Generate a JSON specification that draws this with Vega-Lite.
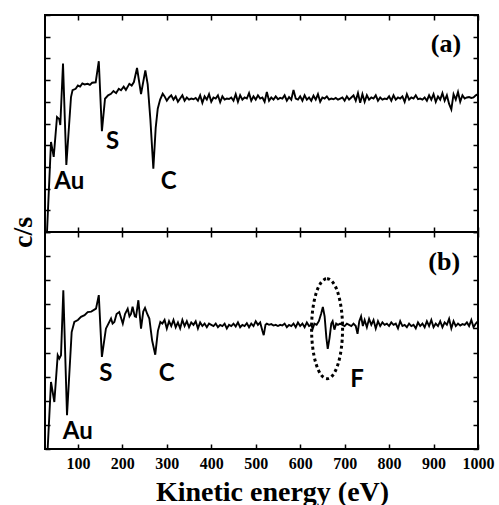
{
  "$schema": "https://vega.github.io/schema/vega-lite/v6.json",
  "background": "white",
  "padding": {"left": 8, "top": 13, "right": 5, "bottom": 0},
  "spacing": 0,
  "bounds": "flush",
  "config": {
    "view": {"stroke": "black", "strokeWidth": 2},
    "axis": {"domain": false, "grid": false, "ticks": true, "tickColor": "black", "tickWidth": 1.5, "tickSize": -5,
      "labelFont": "Liberation Serif", "labelFontWeight": "bold", "labelFontSize": 16, "labelColor": "black",
      "titleFont": "Liberation Serif", "titleFontWeight": "bold", "titleColor": "black"}
  },
  "datasets": {
    "specA": [
      {"energy": 30.5, "cps": 0}, {"energy": 39.5, "cps": 4.15}, {"energy": 45.6, "cps": 3.46}, {"energy": 53, "cps": 5.3}, {"energy": 58, "cps": 5.2}, {"energy": 60.4, "cps": 4.93}, {"energy": 66.5, "cps": 7.76}, {"energy": 74, "cps": 3.09}, {"energy": 84.5, "cps": 6.22}, {"energy": 88, "cps": 6.54}, {"energy": 95, "cps": 6.6}, {"energy": 100, "cps": 6.75}, {"energy": 105, "cps": 6.7}, {"energy": 110, "cps": 6.85}, {"energy": 115, "cps": 6.8}, {"energy": 122, "cps": 6.83}, {"energy": 127, "cps": 6.78}, {"energy": 132, "cps": 6.88}, {"energy": 140, "cps": 6.9}, {"energy": 147, "cps": 7.87}, {"energy": 154, "cps": 4.65}, {"energy": 161, "cps": 6.14}, {"energy": 168, "cps": 6.3}, {"energy": 174.5, "cps": 6.37}, {"energy": 180, "cps": 6.5}, {"energy": 186, "cps": 6.4}, {"energy": 192, "cps": 6.6}, {"energy": 197, "cps": 6.53}, {"energy": 203, "cps": 6.7}, {"energy": 208, "cps": 6.55}, {"energy": 215.7, "cps": 6.83}, {"energy": 221, "cps": 6.75}, {"energy": 226, "cps": 6.91}, {"energy": 233, "cps": 7.56}, {"energy": 242, "cps": 6.36}, {"energy": 251.7, "cps": 7.45}, {"energy": 257, "cps": 6.8}, {"energy": 263, "cps": 5.2}, {"energy": 269.7, "cps": 2.92}, {"energy": 275, "cps": 4.8}, {"energy": 279.6, "cps": 5.68}, {"energy": 285, "cps": 6.1}, {"energy": 290.8, "cps": 6.37},
      {"energy": 295, "cps": 6.25}, {"energy": 300, "cps": 6.05}, {"energy": 305, "cps": 6.2}, {"energy": 310, "cps": 6.3}, {"energy": 315, "cps": 6.1}, {"energy": 320, "cps": 6.25}, {"energy": 325, "cps": 6.0}, {"energy": 330, "cps": 6.15}, {"energy": 335, "cps": 6.3}, {"energy": 340, "cps": 6.05}, {"energy": 345, "cps": 6.2}, {"energy": 350, "cps": 6.1}, {"energy": 355, "cps": 6.15}, {"energy": 360, "cps": 6.12}, {"energy": 365, "cps": 6.18}, {"energy": 370, "cps": 6.05}, {"energy": 375, "cps": 6.3}, {"energy": 380, "cps": 5.95}, {"energy": 385, "cps": 6.25}, {"energy": 390, "cps": 6.1}, {"energy": 395, "cps": 6.35}, {"energy": 400, "cps": 6.0}, {"energy": 405, "cps": 6.2}, {"energy": 410, "cps": 6.15}, {"energy": 415, "cps": 6.3}, {"energy": 420, "cps": 5.98}, {"energy": 425, "cps": 6.25}, {"energy": 430, "cps": 6.1}, {"energy": 435, "cps": 6.15}, {"energy": 440, "cps": 6.13}, {"energy": 445, "cps": 6.2}, {"energy": 450, "cps": 6.05}, {"energy": 455, "cps": 6.35}, {"energy": 460, "cps": 6.0}, {"energy": 465, "cps": 6.3}, {"energy": 470, "cps": 6.1}, {"energy": 475, "cps": 6.2}, {"energy": 480, "cps": 6.15}, {"energy": 485, "cps": 6.4}, {"energy": 490, "cps": 6.05}, {"energy": 495, "cps": 6.25}, {"energy": 500, "cps": 6.1}, {"energy": 505, "cps": 6.3}, {"energy": 510, "cps": 6.15}, {"energy": 515, "cps": 6.2}, {"energy": 520, "cps": 6.0}, {"energy": 525, "cps": 6.45}, {"energy": 530, "cps": 6.05}, {"energy": 535, "cps": 6.2}, {"energy": 540, "cps": 6.1}, {"energy": 545, "cps": 6.25}, {"energy": 550, "cps": 6.12}, {"energy": 555, "cps": 6.18}, {"energy": 560, "cps": 6.15}, {"energy": 565, "cps": 6.3}, {"energy": 570, "cps": 6.05}, {"energy": 575, "cps": 6.22}, {"energy": 580, "cps": 6.1}, {"energy": 585, "cps": 6.55}, {"energy": 590, "cps": 6.15}, {"energy": 595, "cps": 6.1}, {"energy": 600, "cps": 6.25}, {"energy": 605, "cps": 6.05}, {"energy": 610, "cps": 6.3}, {"energy": 615, "cps": 6.1}, {"energy": 620, "cps": 6.2}, {"energy": 625, "cps": 6.05}, {"energy": 630, "cps": 6.28}, {"energy": 635, "cps": 6.1}, {"energy": 640, "cps": 6.35}, {"energy": 645, "cps": 6.0}, {"energy": 650, "cps": 6.2}, {"energy": 655, "cps": 6.15}, {"energy": 660, "cps": 6.25}, {"energy": 665, "cps": 6.1}, {"energy": 670, "cps": 6.15}, {"energy": 675, "cps": 6.12}, {"energy": 680, "cps": 6.18}, {"energy": 685, "cps": 6.1}, {"energy": 690, "cps": 6.15}, {"energy": 695, "cps": 6.2}, {"energy": 700, "cps": 6.05}, {"energy": 705, "cps": 6.25}, {"energy": 710, "cps": 6.1}, {"energy": 715, "cps": 6.2}, {"energy": 720, "cps": 6.3}, {"energy": 725, "cps": 6.05}, {"energy": 730, "cps": 6.4}, {"energy": 735, "cps": 5.95}, {"energy": 740, "cps": 6.35}, {"energy": 745, "cps": 6.0}, {"energy": 750, "cps": 6.3}, {"energy": 755, "cps": 6.1}, {"energy": 760, "cps": 6.2}, {"energy": 765, "cps": 6.15}, {"energy": 770, "cps": 6.3}, {"energy": 775, "cps": 6.05}, {"energy": 780, "cps": 6.2}, {"energy": 785, "cps": 6.1}, {"energy": 790, "cps": 6.15}, {"energy": 795, "cps": 6.12}, {"energy": 800, "cps": 6.25}, {"energy": 805, "cps": 6.05}, {"energy": 810, "cps": 6.3}, {"energy": 815, "cps": 6.1}, {"energy": 820, "cps": 6.2}, {"energy": 825, "cps": 6.15}, {"energy": 830, "cps": 6.25}, {"energy": 835, "cps": 6.0}, {"energy": 840, "cps": 6.35}, {"energy": 845, "cps": 6.1}, {"energy": 850, "cps": 6.2}, {"energy": 855, "cps": 6.15}, {"energy": 860, "cps": 6.3}, {"energy": 865, "cps": 6.12}, {"energy": 870, "cps": 6.15}, {"energy": 875, "cps": 6.1}, {"energy": 880, "cps": 6.2}, {"energy": 885, "cps": 6.05}, {"energy": 890, "cps": 6.3}, {"energy": 895, "cps": 6.1}, {"energy": 900, "cps": 6.35}, {"energy": 905, "cps": 6.0}, {"energy": 910, "cps": 6.25}, {"energy": 915, "cps": 6.1}, {"energy": 920, "cps": 6.4}, {"energy": 925, "cps": 6.05}, {"energy": 930, "cps": 6.3}, {"energy": 935, "cps": 5.9}, {"energy": 940, "cps": 5.65}, {"energy": 945, "cps": 6.35}, {"energy": 950, "cps": 6.1}, {"energy": 955, "cps": 6.45}, {"energy": 960, "cps": 6.0}, {"energy": 965, "cps": 6.3}, {"energy": 970, "cps": 6.15}, {"energy": 975, "cps": 6.2}, {"energy": 980, "cps": 6.22}, {"energy": 985, "cps": 6.18}, {"energy": 990, "cps": 6.2}, {"energy": 995, "cps": 6.3}, {"energy": 1000, "cps": 6.35}
    ],
    "specB": [
      {"energy": 32, "cps": 0}, {"energy": 39.5, "cps": 2.78}, {"energy": 47, "cps": 1.95}, {"energy": 54.6, "cps": 3.89}, {"energy": 58.2, "cps": 3.75}, {"energy": 62, "cps": 3.89}, {"energy": 67.2, "cps": 6.58}, {"energy": 75.5, "cps": 1.4}, {"energy": 86, "cps": 4.85}, {"energy": 92, "cps": 5.27}, {"energy": 100, "cps": 5.35}, {"energy": 107, "cps": 5.48}, {"energy": 115, "cps": 5.55}, {"energy": 122, "cps": 5.68}, {"energy": 130, "cps": 5.7}, {"energy": 140.75, "cps": 5.82}, {"energy": 147, "cps": 6.38}, {"energy": 154, "cps": 3.82}, {"energy": 163, "cps": 4.99}, {"energy": 174.5, "cps": 5.41}, {"energy": 178, "cps": 5.2}, {"energy": 182, "cps": 5.27}, {"energy": 187, "cps": 5.6}, {"energy": 193, "cps": 5.68}, {"energy": 201, "cps": 5.2}, {"energy": 206, "cps": 5.6}, {"energy": 212, "cps": 5.82}, {"energy": 216, "cps": 5.5}, {"energy": 219.5, "cps": 5.6}, {"energy": 223, "cps": 5.9}, {"energy": 228, "cps": 5.5}, {"energy": 230.75, "cps": 5.48}, {"energy": 236, "cps": 6.17}, {"energy": 242, "cps": 4.99}, {"energy": 247, "cps": 5.7}, {"energy": 251, "cps": 5.85}, {"energy": 256, "cps": 5.6}, {"energy": 260.7, "cps": 5.41}, {"energy": 267, "cps": 4.5}, {"energy": 274, "cps": 3.91}, {"energy": 280, "cps": 4.9}, {"energy": 285.5, "cps": 5.27},
      {"energy": 290, "cps": 5.2}, {"energy": 295, "cps": 5.35}, {"energy": 300, "cps": 5.0}, {"energy": 305, "cps": 5.3}, {"energy": 310, "cps": 5.1}, {"energy": 315, "cps": 5.35}, {"energy": 320, "cps": 5.05}, {"energy": 325, "cps": 5.25}, {"energy": 330, "cps": 5.0}, {"energy": 335, "cps": 5.35}, {"energy": 340, "cps": 5.1}, {"energy": 345, "cps": 5.3}, {"energy": 350, "cps": 5.05}, {"energy": 355, "cps": 5.25}, {"energy": 360, "cps": 5.15}, {"energy": 365, "cps": 5.3}, {"energy": 370, "cps": 5.0}, {"energy": 375, "cps": 5.25}, {"energy": 380, "cps": 5.1}, {"energy": 385, "cps": 5.2}, {"energy": 390, "cps": 5.05}, {"energy": 395, "cps": 5.2}, {"energy": 400, "cps": 5.15}, {"energy": 405, "cps": 5.1}, {"energy": 410, "cps": 5.2}, {"energy": 415, "cps": 5.05}, {"energy": 420, "cps": 5.15}, {"energy": 425, "cps": 5.1}, {"energy": 430, "cps": 5.2}, {"energy": 435, "cps": 5.0}, {"energy": 440, "cps": 5.15}, {"energy": 445, "cps": 5.1}, {"energy": 450, "cps": 5.2}, {"energy": 455, "cps": 5.08}, {"energy": 460, "cps": 5.25}, {"energy": 465, "cps": 5.05}, {"energy": 470, "cps": 5.15}, {"energy": 475, "cps": 5.1}, {"energy": 480, "cps": 5.22}, {"energy": 485, "cps": 5.05}, {"energy": 490, "cps": 5.2}, {"energy": 495, "cps": 5.1}, {"energy": 500, "cps": 5.3}, {"energy": 505, "cps": 5.15}, {"energy": 510, "cps": 5.25}, {"energy": 515, "cps": 4.9}, {"energy": 518, "cps": 4.72}, {"energy": 522, "cps": 5.15}, {"energy": 525, "cps": 5.2}, {"energy": 530, "cps": 5.15}, {"energy": 535, "cps": 5.18}, {"energy": 540, "cps": 5.12}, {"energy": 545, "cps": 5.15}, {"energy": 550, "cps": 5.1}, {"energy": 555, "cps": 5.15}, {"energy": 560, "cps": 5.12}, {"energy": 565, "cps": 5.2}, {"energy": 570, "cps": 5.05}, {"energy": 575, "cps": 5.15}, {"energy": 580, "cps": 5.1}, {"energy": 585, "cps": 5.2}, {"energy": 590, "cps": 5.05}, {"energy": 595, "cps": 5.25}, {"energy": 600, "cps": 5.1}, {"energy": 605, "cps": 5.2}, {"energy": 610, "cps": 5.05}, {"energy": 615, "cps": 5.25}, {"energy": 620, "cps": 5.1}, {"energy": 625, "cps": 5.15}, {"energy": 628, "cps": 4.98}, {"energy": 632, "cps": 5.2}, {"energy": 637, "cps": 5.15}, {"energy": 642, "cps": 5.3}, {"energy": 647, "cps": 5.6}, {"energy": 651, "cps": 5.89}, {"energy": 655, "cps": 5.5}, {"energy": 659, "cps": 4.6}, {"energy": 662, "cps": 4.15}, {"energy": 666, "cps": 4.6}, {"energy": 670, "cps": 5.2}, {"energy": 673, "cps": 5.3}, {"energy": 677, "cps": 4.95}, {"energy": 681, "cps": 5.2}, {"energy": 685, "cps": 5.15}, {"energy": 690, "cps": 5.2}, {"energy": 695, "cps": 5.15}, {"energy": 700, "cps": 5.1}, {"energy": 705, "cps": 5.2}, {"energy": 710, "cps": 5.15}, {"energy": 715, "cps": 5.1}, {"energy": 720, "cps": 5.2}, {"energy": 725, "cps": 5.1}, {"energy": 729, "cps": 4.78}, {"energy": 733, "cps": 5.3}, {"energy": 737, "cps": 5.5}, {"energy": 741, "cps": 5.1}, {"energy": 745, "cps": 5.35}, {"energy": 750, "cps": 5.05}, {"energy": 755, "cps": 5.4}, {"energy": 760, "cps": 5.15}, {"energy": 765, "cps": 5.35}, {"energy": 770, "cps": 5.0}, {"energy": 775, "cps": 5.3}, {"energy": 780, "cps": 5.1}, {"energy": 785, "cps": 5.25}, {"energy": 790, "cps": 5.15}, {"energy": 795, "cps": 5.2}, {"energy": 800, "cps": 5.1}, {"energy": 805, "cps": 5.25}, {"energy": 810, "cps": 5.15}, {"energy": 815, "cps": 5.2}, {"energy": 820, "cps": 5.0}, {"energy": 825, "cps": 5.3}, {"energy": 830, "cps": 5.1}, {"energy": 835, "cps": 5.15}, {"energy": 840, "cps": 5.05}, {"energy": 845, "cps": 5.2}, {"energy": 850, "cps": 5.1}, {"energy": 855, "cps": 5.15}, {"energy": 860, "cps": 5.0}, {"energy": 865, "cps": 5.25}, {"energy": 870, "cps": 5.1}, {"energy": 875, "cps": 5.2}, {"energy": 880, "cps": 5.05}, {"energy": 885, "cps": 5.3}, {"energy": 890, "cps": 5.1}, {"energy": 895, "cps": 5.35}, {"energy": 900, "cps": 5.05}, {"energy": 905, "cps": 5.2}, {"energy": 910, "cps": 5.1}, {"energy": 915, "cps": 5.3}, {"energy": 920, "cps": 5.05}, {"energy": 925, "cps": 5.25}, {"energy": 930, "cps": 5.15}, {"energy": 935, "cps": 5.4}, {"energy": 940, "cps": 5.0}, {"energy": 945, "cps": 5.3}, {"energy": 950, "cps": 5.1}, {"energy": 955, "cps": 5.2}, {"energy": 960, "cps": 5.12}, {"energy": 965, "cps": 5.18}, {"energy": 970, "cps": 5.15}, {"energy": 975, "cps": 5.25}, {"energy": 980, "cps": 5.1}, {"energy": 985, "cps": 5.35}, {"energy": 990, "cps": 5.05}, {"energy": 995, "cps": 5.2}, {"energy": 1000, "cps": 5.3}
    ],
    "tagsA": [{"energy": 80.7, "cps": 2.3, "tag": "Au"}, {"energy": 178, "cps": 4.15, "tag": "S"}, {"energy": 304, "cps": 2.3, "tag": "C"}],
    "tagsB": [{"energy": 99.6, "cps": 0.7, "tag": "Au"}, {"energy": 163, "cps": 3.12, "tag": "S"}, {"energy": 300, "cps": 3.12, "tag": "C"}, {"energy": 728, "cps": 2.85, "tag": "F"}],
    "letterA": [{"energy": 928, "cps": 8.68, "tag": "(a)"}],
    "letterB": [{"energy": 924, "cps": 7.76, "tag": "(b)"}],
    "ring": [{"energy": 660.5, "cps": 4.99}]
  },
  "vconcat": [
    {
      "width": 433, "height": 217,
      "layer": [
        {
          "data": {"name": "specA"},
          "mark": {"type": "line", "color": "black", "strokeWidth": 1.9},
          "encoding": {
            "x": {"field": "energy", "type": "quantitative", "scale": {"domain": [26, 1000], "nice": false, "zero": false},
              "axis": {"orient": "bottom", "values": [100, 200, 300, 400, 500, 600, 700, 800, 900, 1000], "labels": false, "title": null}},
            "y": {"field": "cps", "type": "quantitative", "scale": {"domain": [0, 10], "nice": false, "zero": false},
              "axis": {"orient": "left", "values": [0, 1, 2, 3, 4, 5, 6, 7, 8, 9, 10], "labels": false, "title": "c/s", "titleFontSize": 28, "titleX": -22, "titleY": 217, "titleAngle": 270, "titleBaseline": "middle", "titleAlign": "center"}}
          }
        },
        {
          "data": {"name": "tagsA"},
          "mark": {"type": "text", "font": "Lato", "fontWeight": "bold", "fontSize": 24, "color": "black"},
          "encoding": {
            "x": {"field": "energy", "type": "quantitative", "axis": {"orient": "top", "values": [100, 200, 300, 400, 500, 600, 700, 800, 900, 1000], "labels": false, "title": null}},
            "y": {"field": "cps", "type": "quantitative", "axis": {"orient": "right", "values": [0, 1, 2, 3, 4, 5, 6, 7, 8, 9, 10], "labels": false, "title": null}},
            "text": {"field": "tag"}
          }
        },
        {
          "data": {"name": "letterA"},
          "mark": {"type": "text", "font": "Liberation Serif", "fontWeight": "bold", "fontSize": 26, "color": "black"},
          "encoding": {
            "x": {"field": "energy", "type": "quantitative", "axis": null},
            "y": {"field": "cps", "type": "quantitative", "axis": null},
            "text": {"field": "tag"}
          }
        }
      ]
    },
    {
      "width": 433, "height": 217,
      "layer": [
        {
          "data": {"name": "specB"},
          "mark": {"type": "line", "color": "black", "strokeWidth": 1.9},
          "encoding": {
            "x": {"field": "energy", "type": "quantitative", "scale": {"domain": [26, 1000], "nice": false, "zero": false},
              "axis": {"orient": "bottom", "values": [100, 200, 300, 400, 500, 600, 700, 800, 900, 1000], "format": "d", "labelFlush": false, "labelOverlap": false, "labelPadding": 11, "title": "Kinetic energy (eV)", "titleFontSize": 28, "titleX": 227, "titleY": 51, "titleBaseline": "alphabetic", "titleAlign": "center"}},
            "y": {"field": "cps", "type": "quantitative", "scale": {"domain": [0, 9], "nice": false, "zero": false},
              "axis": {"orient": "left", "values": [0, 1, 2, 3, 4, 5, 6, 7, 8, 9], "labels": false, "title": null}}
          }
        },
        {
          "data": {"name": "tagsB"},
          "mark": {"type": "text", "font": "Lato", "fontWeight": "bold", "fontSize": 24, "color": "black"},
          "encoding": {
            "x": {"field": "energy", "type": "quantitative", "axis": {"orient": "top", "values": [100, 200, 300, 400, 500, 600, 700, 800, 900, 1000], "labels": false, "title": null}},
            "y": {"field": "cps", "type": "quantitative", "axis": {"orient": "right", "values": [0, 1, 2, 3, 4, 5, 6, 7, 8, 9], "labels": false, "title": null}},
            "text": {"field": "tag"}
          }
        },
        {
          "data": {"name": "letterB"},
          "mark": {"type": "text", "font": "Liberation Serif", "fontWeight": "bold", "fontSize": 26, "color": "black"},
          "encoding": {
            "x": {"field": "energy", "type": "quantitative", "axis": null},
            "y": {"field": "cps", "type": "quantitative", "axis": null},
            "text": {"field": "tag"}
          }
        },
        {
          "data": {"name": "ring"},
          "mark": {"type": "point", "shape": "M 0,-1 A 0.31,1 0 1,1 0,1 A 0.31,1 0 1,1 0,-1 Z", "size": 10000, "filled": false, "stroke": "black", "strokeWidth": 3, "strokeDash": [3, 3], "opacity": 1},
          "encoding": {
            "x": {"field": "energy", "type": "quantitative", "axis": null},
            "y": {"field": "cps", "type": "quantitative", "axis": null}
          }
        }
      ]
    }
  ]
}
